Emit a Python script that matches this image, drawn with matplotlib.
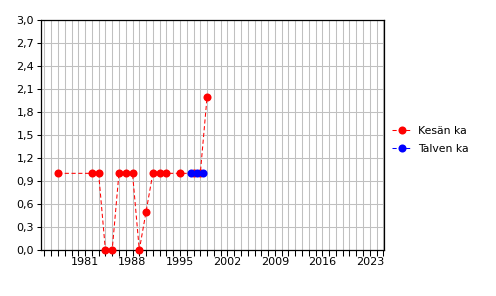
import numpy as np
import matplotlib
matplotlib.use("Agg")
import matplotlib.pyplot as plt
from matplotlib.ticker import FuncFormatter, MultipleLocator

# Kesän keskiarvot
kesa_vuodet = [1977, 1982, 1983, 1984, 1985, 1986, 1987, 1988, 1989, 1990,
               1991, 1992, 1993, 1995, 1997, 1998, 1999]
kesa_arvot = [1.0, 1.0, 1.0, 0.0, 0.0, 1.0, 1.0, 1.0, 0.0, 0.5,
              1.0, 1.0, 1.0, 1.0, 1.0, 1.0, 2.0]

# Talven keskiarvot
talvi_vuodet = [1996.6, 1997.5, 1998.4]
talvi_arvot = [1.0, 1.0, 1.0]

x_labels = [1981, 1988, 1995, 2002, 2009, 2016, 2023]

plt.rcParams['font.family'] = ['DejaVu Sans']
plt.rcParams['font.size'] = 8

fig = plt.figure(figsize=(4.96, 2.96), dpi=100)
ax = fig.add_axes([41 / 496, 1 - 250 / 296, 343 / 496, 230 / 296])

ax.set_xlim(1974.5, 2025.1)
ax.set_ylim(0, 3.0)

# ruudukko, 1 px viivat
ax.xaxis.set_major_locator(plt.FixedLocator(x_labels))
ax.xaxis.set_minor_locator(MultipleLocator(1))
ax.yaxis.set_major_locator(MultipleLocator(0.3))
ax.grid(True, which='both', axis='x', color='#c0c0c0', linewidth=0.75)
ax.grid(True, which='major', axis='y', color='#c0c0c0', linewidth=0.75)
ax.set_axisbelow(True)

ax.plot(kesa_vuodet, kesa_arvot, color='red', linestyle='--', linewidth=0.75,
        dashes=(4, 2.5), marker='o', markersize=5.8, markeredgewidth=0,
        clip_on=False, label='Kesän ka', zorder=3)
ax.plot(talvi_vuodet, talvi_arvot, color='blue', linestyle='--', linewidth=0.75,
        dashes=(4, 2.5), marker='o', markersize=5.8, markeredgewidth=0,
        clip_on=False, label='Talven ka', zorder=4)

ax.yaxis.set_major_formatter(FuncFormatter(lambda v, p: ('%.1f' % v).replace('.', ',')))

for s in ax.spines.values():
    s.set_color('black')
    s.set_linewidth(0.9)

ax.tick_params(axis='x', which='both', direction='out', length=4, width=0.75,
               color='black', pad=1)
ax.tick_params(axis='y', which='both', direction='out', length=3, width=0.75,
               color='black', pad=2)

ax.legend(loc='center left', bbox_to_anchor=(1.0, 0.478), frameon=False,
          handlelength=1.9, handletextpad=0.5, labelspacing=0.75,
          borderaxespad=0.3, fontsize=7.8)

fig.savefig('out.png', dpi=100, facecolor='white')
